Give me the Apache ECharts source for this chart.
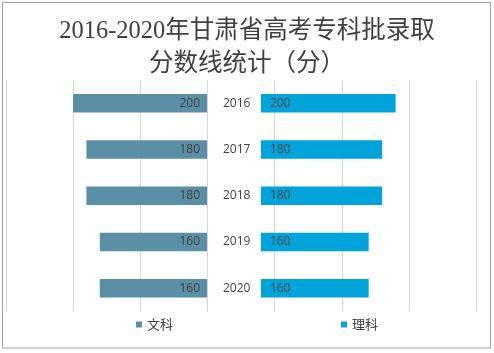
<!DOCTYPE html>
<html>
<head>
<meta charset="utf-8">
<script src="https://cdn.jsdelivr.net/npm/echarts@6/dist/echarts.min.js"></script>
<style>
html, body { margin: 0; padding: 0; background: #fff; }
#chart { width: 494px; height: 353px; }
</style>
</head>
<body>
<div id="chart"></div>
<script>
var years = ['2016', '2017', '2018', '2019', '2020'];
var wenke = [200, 180, 180, 160, 160];
var like = [200, 180, 180, 160, 160];

var textColor = '#404040';
var gridColor = '#d6d6d6';

var myChart = echarts.init(document.getElementById('chart'));
var option = {
	animation: false,
	title: {
		text: '2016-2020年甘肃省高考专科批录取\n分数线统计（分）',
		left: 'center',
		top: 10,
		textStyle: {
			fontFamily: "'Liberation Serif', 'Noto Sans CJK SC'",
			fontSize: 24.5,
			fontWeight: 'normal',
			lineHeight: 33,
			color: textColor
		}
	},
	graphic: [
		{
			type: 'rect',
			shape: { x: 2.5, y: 2.5, width: 488, height: 345.5 },
			style: { fill: 'none', stroke: '#a0a0a0', lineWidth: 1 },
			silent: true
		}
	],
	legend: [
		{
			data: ['文科'],
			left: 131,
			top: 313,
			icon: 'rect',
			itemWidth: 6,
			itemHeight: 6,
			itemGap: 5,
			textStyle: { fontSize: 13, color: textColor, fontFamily: "'Noto Sans CJK SC'" }
		},
		{
			data: ['理科'],
			left: 336,
			top: 313,
			icon: 'rect',
			itemWidth: 6,
			itemHeight: 6,
			itemGap: 5,
			textStyle: { fontSize: 13, color: textColor, fontFamily: "'Noto Sans CJK SC'" }
		}
	],
	grid: [
		{ left: 6, width: 201, top: 80, height: 231.5 },
		{ left: 207, right: 17.5, top: 80, height: 231.5 }
	],
	xAxis: [
		{
			gridIndex: 0,
			type: 'value',
			inverse: true,
			min: 0,
			max: 300,
			interval: 100,
			axisLabel: { show: false },
			axisLine: { show: false },
			axisTick: { show: false },
			splitLine: { lineStyle: { color: gridColor } }
		},
		{
			gridIndex: 1,
			type: 'value',
			min: -80,
			max: 320,
			interval: 100,
			axisLabel: { show: false },
			axisLine: { show: false },
			axisTick: { show: false },
			splitLine: { lineStyle: { color: gridColor } }
		}
	],
	yAxis: [
		{
			gridIndex: 0,
			type: 'category',
			data: years,
			inverse: true,
			position: 'right',
			axisLine: { show: false },
			axisTick: { show: false },
			axisLabel: {
				margin: 16,
				align: 'left',
				fontSize: 12,
				color: textColor,
				fontFamily: "'Open Sans', sans-serif"
			}
		},
		{
			gridIndex: 1,
			type: 'category',
			data: years,
			inverse: true,
			axisLine: { show: false },
			axisTick: { show: false },
			axisLabel: { show: false }
		}
	],
	series: [
		{
			name: '文科',
			type: 'bar',
			xAxisIndex: 0,
			yAxisIndex: 0,
			barWidth: 18.5,
			itemStyle: { color: '#5a8fa6' },
			label: {
				show: true,
				position: 'insideRight',
				distance: 7,
				fontSize: 12,
				color: textColor,
				fontFamily: "'Open Sans', sans-serif"
			},
			data: wenke
		},
		{
			name: '理科',
			type: 'bar',
			xAxisIndex: 1,
			yAxisIndex: 1,
			barWidth: 18.5,
			itemStyle: { color: '#00a3da' },
			label: {
				show: true,
				position: 'insideLeft',
				distance: 9,
				fontSize: 12,
				color: textColor,
				fontFamily: "'Open Sans', sans-serif"
			},
			data: like
		}
	]
};
myChart.setOption(option);
</script>
</body>
</html>
